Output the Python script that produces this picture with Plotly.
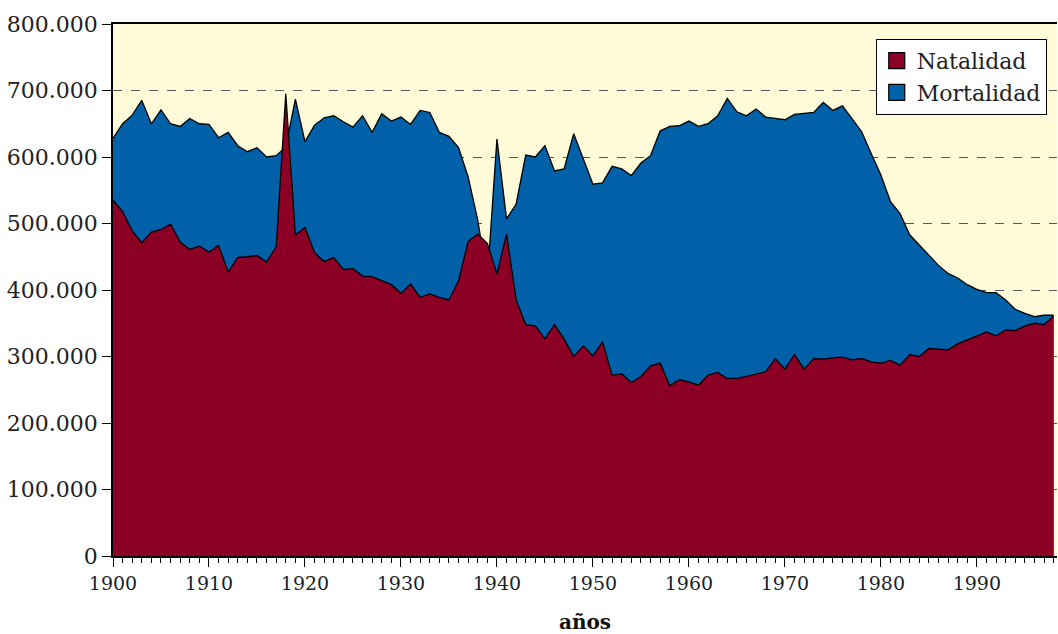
import plotly.graph_objects as go

years = list(range(1900, 1999))

natalidad = [
    535, 518, 489, 471, 487, 491, 499, 472, 461, 466,
    457, 467, 427, 449, 450, 452, 442, 465, 695, 483,
    494, 456, 443, 449, 431, 432, 421, 420, 414, 408,
    395, 409, 389, 394, 389, 385, 414, 473, 484, 470,
    424, 484, 385, 348, 346, 327, 348, 326, 300, 316,
    301, 322, 272, 274, 261, 270, 286, 290, 256, 265,
    262, 257, 272, 276, 267, 267, 270, 274, 277, 297,
    281, 303, 281, 297, 296, 298, 299, 295, 297, 292,
    290, 294, 287, 303, 300, 312, 311, 310, 319, 325,
    332, 337, 331, 340, 339, 346, 350, 348, 361,
]
natalidad = [v * 1000 for v in natalidad]

mortalidad = [
    628, 650, 663, 685, 650, 671, 650, 646, 658, 650,
    649, 629, 637, 617, 608, 614, 600, 602, 615, 687,
    623, 648, 659, 662, 653, 645, 662, 637, 665, 654,
    660, 649, 670, 667, 637, 631, 614, 570, 505, 416,
    627, 507, 529, 603, 600, 617, 579, 582, 635, 596,
    559, 561, 586, 582, 572, 591, 602, 639, 646, 647,
    654, 646, 650, 662, 688, 668, 662, 672, 660, 658,
    656, 664, 665, 667, 682, 670, 677, 658, 638, 605,
    573, 533, 515, 483, 468, 453, 437, 425, 418, 408,
    401, 396, 396, 385, 371, 365, 360, 362, 362,
]
mortalidad = [v * 1000 for v in mortalidad]

ytick_vals = [0, 100000, 200000, 300000, 400000, 500000, 600000, 700000, 800000]
xtick_vals = [1900, 1910, 1920, 1930, 1940, 1950, 1960, 1970, 1980, 1990]

RED = "#8C0026"
BLUE = "#0061A9"
FONT = "DejaVu Serif"

fig = go.Figure()
fig.add_trace(go.Scatter(
    x=years, y=mortalidad, name="Mortalidad", mode="lines", showlegend=False,
    fill="tozeroy", fillcolor=BLUE, line=dict(color="black", width=1.3),
))
fig.add_trace(go.Scatter(
    x=years, y=natalidad, name="Natalidad", mode="lines", showlegend=False,
    fill="tozeroy", fillcolor=RED, line=dict(color="black", width=1.3),
))
# legend swatches
fig.add_trace(go.Scatter(
    x=[None], y=[None], name="Natalidad", mode="markers",
    marker=dict(symbol="square", size=17, color=RED, line=dict(color="black", width=1.2)),
))
fig.add_trace(go.Scatter(
    x=[None], y=[None], name="Mortalidad", mode="markers",
    marker=dict(symbol="square", size=17, color=BLUE, line=dict(color="black", width=1.2)),
))

fig.update_layout(
    width=1058, height=634,
    margin=dict(l=113, r=1, t=24, b=78),
    paper_bgcolor="white",
    plot_bgcolor="#FFFAD8",
    separators=",.",
    font=dict(family=FONT, color="#222"),
    showlegend=True,
    legend=dict(
        x=0.808, y=0.972, xanchor="left", yanchor="top",
        bgcolor="white", bordercolor="black", borderwidth=1,
        font=dict(family=FONT, size=22, color="#222"),
        traceorder="normal",
        itemsizing="trace",
        tracegroupgap=0,
        itemwidth=30,
    ),
)

fig.update_xaxes(
    range=[1900, 1998.35],
    tickvals=xtick_vals,
    ticks="outside", ticklen=9, tickcolor="black", tickwidth=1,
    minor=dict(dtick=1, tick0=1900, ticks="outside", ticklen=5, tickcolor="black", showgrid=False),
    showline=True, linecolor="black", linewidth=1.5, mirror=True,
    showgrid=False, zeroline=False, automargin=False,
    tickfont=dict(family=FONT, size=19, color="#222"),
    title=dict(text="<b>años</b>", font=dict(family=FONT, size=20, color="#111"), standoff=24),
)
fig.update_yaxes(
    range=[0, 800000],
    tickvals=ytick_vals, tickformat=",",
    ticks="outside", ticklen=9, tickcolor="black", tickwidth=1,
    showline=True, linecolor="black", linewidth=1.5,
    showgrid=True, gridcolor="#555", griddash="dash", gridwidth=1,
    zeroline=False, automargin=False,
    tickfont=dict(family=FONT, size=22, color="#222"),
)

fig.write_html(
    "out.html",
    config={"displayModeBar": False},
    post_script="document.body.style.margin='0';document.body.style.overflow='hidden';",
)
